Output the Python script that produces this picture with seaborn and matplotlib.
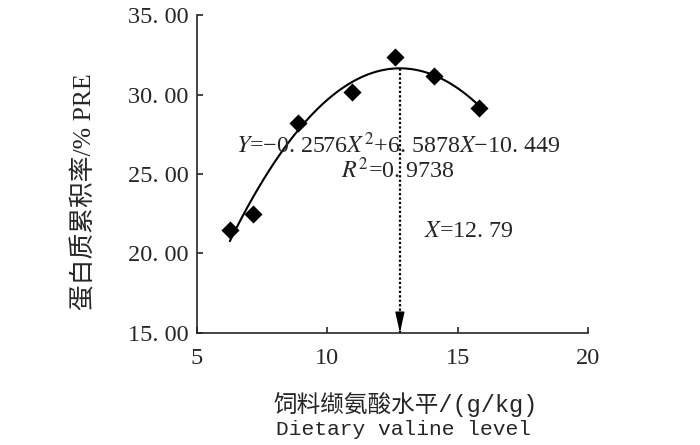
import numpy as np
import pandas as pd
import matplotlib
matplotlib.use('Agg')
import matplotlib.pyplot as plt
import seaborn as sns
from matplotlib.ticker import FuncFormatter

# data
valine = [6.27, 7.16, 8.89, 10.97, 12.60, 14.10, 15.83]
pre = [21.48, 22.48, 28.23, 30.18, 32.34, 31.18, 29.13]
opt_valine = 12.79
eq_text = "$Y$=\u22120. 2576$X^{2}$+6. 5878$X$\u221210. 449"
r2_text = "$R^{2}$=0. 9738"
opt_text = "$X$=12. 79"
x_ticks = [5, 10, 15, 20]
y_ticks = [15, 20, 25, 30, 35]

df = pd.DataFrame({"valine": valine, "pre": pre})

sns.set_style("ticks")
plt.rcParams['font.family'] = ['Liberation Serif', 'Noto Sans CJK SC']
plt.rcParams['mathtext.fontset'] = 'stix'

fig = plt.figure(figsize=(7, 4.45), dpi=100)
ax = fig.add_axes([0.281, 0.252, 0.559, 0.714])

sns.regplot(data=df, x="valine", y="pre", order=2, ci=None, ax=ax,
            marker='D', color='black',
            scatter_kws={'s': 85, 'alpha': 1, 'edgecolor': 'black', 'linewidths': 0},
            line_kws={'lw': 1.5})

# dotted drop line from the vertex to the x axis
fit = ax.lines[0]
peak = np.interp(opt_valine, fit.get_xdata(), fit.get_ydata())
ax.vlines(opt_valine, 15, peak, colors='black', linestyles=(0, (1, 1)), lw=1.6)
ax.annotate('', xy=(opt_valine, 15), xytext=(opt_valine, 16.3),
            arrowprops=dict(arrowstyle='-|>,head_length=0.9,head_width=0.2',
                            color='black', lw=1, mutation_scale=14,
                            shrinkA=0, shrinkB=0))

ax.text(12.71, 26.82, eq_text, ha='center', va='center', fontsize=17.3)
ax.text(12.69, 25.25, r2_text, ha='center', va='center', fontsize=17.3)
ax.text(15.43, 21.35, opt_text, ha='center', va='center', fontsize=17.3)

ax.set_xlim(5, 20)
ax.set_ylim(15, 35)
ax.set_xticks(x_ticks)
ax.set_yticks(y_ticks)
ax.yaxis.set_major_formatter(FuncFormatter(lambda v, p: f"{v:.2f}".replace('.', '. ')))
ax.tick_params(direction='in', length=4, width=1.2, labelsize=17.5, pad=6)
ax.tick_params(axis='x', pad=11)
for s in ['left', 'bottom']:
    ax.spines[s].set_linewidth(1.2)
sns.despine(ax=ax)

ax.set_xlabel('')
ax.set_ylabel('')
fig.text(0.12, 0.569, "蛋白质累积率/% PRE", rotation=90, ha='center', va='center',
         fontsize=18.5)
fig.text(0.579, 0.09, "饲料缬氨酸水平/(g/kg)", ha='center', va='center', fontsize=17,
         family=['Liberation Mono', 'Noto Sans CJK SC'])
fig.text(0.577, 0.034, "Dietary valine level", ha='center', va='center', fontsize=15.3,
         family=['Liberation Mono'])

fig.savefig("out.png", dpi=100)
